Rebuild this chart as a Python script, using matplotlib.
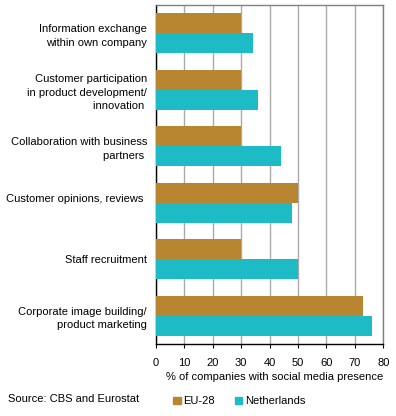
import numpy as np
import matplotlib
matplotlib.use("Agg")
import matplotlib.pyplot as plt
from matplotlib.patches import Patch

plt.rcParams['font.family'] = ['Liberation Sans', 'DejaVu Sans']
plt.rcParams['font.size'] = 8

# Datos
categorias = [
    "Information exchange\nwithin own company",
    "Customer participation\nin product development/\ninnovation ",
    "Collaboration with business\npartners ",
    "Customer opinions, reviews \n ",
    "Staff recruitment",
    "Corporate image building/\nproduct marketing",
]
eu28 = [30, 30, 30, 50, 30, 73]
nederland = [34, 36, 44, 48, 50, 76]
series = ["EU-28", "Netherlands"]
ticks_x = [0, 10, 20, 30, 40, 50, 60, 70, 80]

color_eu = "#B88530"
color_nl = "#1DBBC6"

fig = plt.figure(figsize=(3.96, 4.16), dpi=100)
ax = fig.add_axes([156 / 396, 1 - 344 / 416, (383.3 - 156) / 396, (344 - 5) / 416])

y = np.arange(len(categorias))
h = 0.35
ax.barh(y - h / 2, eu28, height=h, color=color_eu, zorder=3)
ax.barh(y + h / 2, nederland, height=h, color=color_nl, zorder=3)

ax.set_ylim(len(categorias) - 0.5, -0.5)  # primera categoria arriba
ax.set_xlim(0, 80)
ax.set_xticks(ticks_x)
ax.set_yticks(y)
ax.set_yticklabels(categorias, ha="right", linespacing=1.45)
ax.tick_params(axis="y", length=0, pad=6.5)
ax.tick_params(axis="x", length=3, width=0.8, pad=7, color="black")

# Rejilla vertical
ax.grid(axis="x", color="#AAAAAA", linewidth=1.0, zorder=0)
ax.set_axisbelow(True)
for lado in ["top", "right"]:
    ax.spines[lado].set_color("#808080")
    ax.spines[lado].set_linewidth(1.0)
for lado in ["left", "bottom"]:
    ax.spines[lado].set_color("black")
    ax.spines[lado].set_linewidth(1.0)

ax.set_xlabel("% of companies with social media presence", loc="right", labelpad=3)

fig.text(8 / 396, 1 - 399 / 416, "Source: CBS and Eurostat", va="center", ha="left")

handles = [Patch(color=color_eu), Patch(color=color_nl)]
fig.legend(handles, series, loc="center left", bbox_to_anchor=(173.3 / 396, 1 - 401.3 / 416),
           ncol=2, frameon=False, borderpad=0, borderaxespad=0,
           handlelength=0.65, handleheight=0.65, handletextpad=0.25, columnspacing=1.8)

fig.savefig("out.png", dpi=100)
